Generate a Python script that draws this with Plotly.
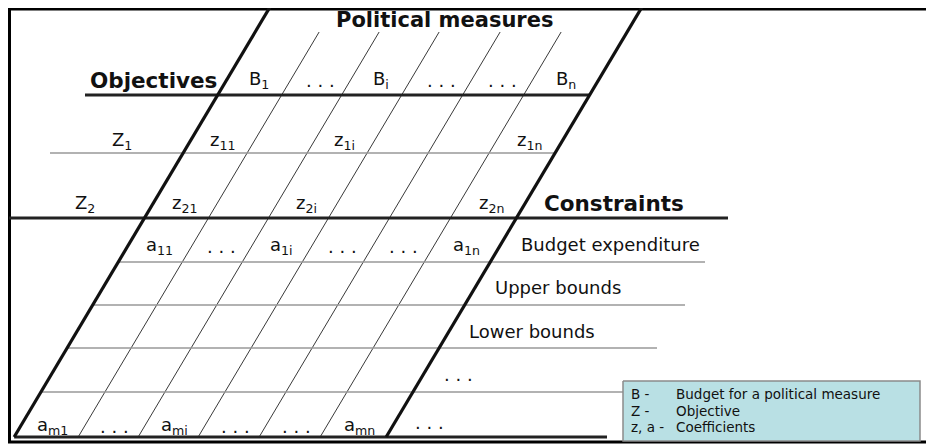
import plotly.graph_objects as go

# labels in the matrix
col_heads = ["B<sub>1</sub>", ". . .", "B<sub>i</sub>", ". . .", ". . .", "B<sub>n</sub>"]
obj_names = ["Z<sub>1</sub>", "Z<sub>2</sub>"]
obj_rows = [["z<sub>11</sub>", "", "z<sub>1i</sub>", "", "", "z<sub>1n</sub>"],
            ["z<sub>21</sub>", "", "z<sub>2i</sub>", "", "", "z<sub>2n</sub>"]]
con_first = ["a<sub>11</sub>", ". . .", "a<sub>1i</sub>", ". . .", ". . .", "a<sub>1n</sub>"]
con_last = ["a<sub>m1</sub>", ". . .", "a<sub>mi</sub>", ". . .", ". . .", "a<sub>mn</sub>"]
con_names = ["Budget expenditure", "Upper bounds", "Lower bounds", ". . .", ". . ."]
legend_keys = ["B -", "Z -", "z, a -"]
legend_desc = ["Budget for a political measure", "Objective", "Coefficients"]

# geometry of the slanted table (window pixel units)
TOP, BOT = 7, 437
SLOPE = 0.595
XL0, XR0 = 270, 642
col_off = [0, 64, 124, 184, 245, 306, 372]
FONT = "DejaVu Sans"
# the page body has an 8px margin, so the plot starts at (8, 8)
PAGE = 8


def xl(y):
    return XL0 - SLOPE * (y - TOP)


def xr(y):
    return XR0 - SLOPE * (y - TOP)


fig = go.Figure()


def seg(xs, ys, color, width):
    fig.add_trace(go.Scatter(x=xs, y=ys, mode="lines", hoverinfo="skip",
                             line=dict(color=color, width=width), showlegend=False))


# outer frame
seg([934, 9.5, 9.5, 934], [9, 9, 442, 442], "#000000", 3)

# thin slanted column lines
for off in col_off[1:-1]:
    seg([xl(32) + off, xl(BOT) + off], [32, BOT], "#222222", 0.9)

# horizontal lines
seg([85, xr(95)], [95, 95], "#222222", 3)
seg([50, xr(153)], [153, 153], "#999999", 1.6)
seg([9, 728], [218, 218], "#222222", 3)
for y, x1 in [(262, 705), (305, 685), (348, 657), (392, 623)]:
    seg([xl(y), x1], [y, y], "#999999", 1.6)
seg([xl(BOT), 607], [BOT, BOT], "#222222", 3)

# thick slanted borders
seg([xl(TOP), xl(BOT)], [TOP, BOT], "#111111", 3.2)
seg([xr(TOP), xr(BOT)], [TOP, BOT], "#111111", 3.2)

# legend box
fig.add_trace(go.Scatter(x=[623, 920, 920, 623, 623], y=[381, 381, 441, 441, 381],
                         mode="lines", fill="toself", fillcolor="#b9e0e4",
                         line=dict(color="#8a8a8a", width=1.5),
                         hoverinfo="skip", showlegend=False))

ann = []


def txt(x, y, s, size=18, bold=False, anchor="center"):
    ann.append(dict(x=x, y=y, text=("<b>%s</b>" % s) if bold else s, showarrow=False,
                    xanchor=anchor, yanchor="middle",
                    font=dict(family=FONT, size=size, color="#111111")))


def cell_x(y, k):
    return xl(y) + (col_off[k] + col_off[k + 1]) / 2


txt(444, 20, "Political measures", 21, True)
txt(xl(80) - 8, 80, "Objectives", 21.5, True, "right")
txt(xr(203) + 17, 203, "Constraints", 21.5, True, "left")

for k, s in enumerate(col_heads):
    txt(cell_x(80, k), 80, s)
for r, (y, name) in enumerate(zip([141, 204], obj_names)):
    txt(xl(y) - 68, y, name)
    for k, s in enumerate(obj_rows[r]):
        if s:
            txt(cell_x(y, k), y, s)
for k, s in enumerate(con_first):
    txt(cell_x(246, k), 246, s)
for k, s in enumerate(con_last):
    txt(cell_x(426, k), 426, s)
for y, s in zip([244, 287, 331, 374, 422], con_names):
    txt(xr(y) + 18, y, s, 18, anchor="left")

for i, (k, d) in enumerate(zip(legend_keys, legend_desc)):
    y = 394 + 16.5 * i
    txt(629, y, k, 13.5, anchor="left")
    txt(674, y, d, 13.5, anchor="left")

fig.update_layout(
    width=934 - PAGE, height=446 - PAGE,
    margin=dict(l=0, r=0, t=0, b=0),
    paper_bgcolor="white", plot_bgcolor="white",
    xaxis=dict(range=[PAGE, 934], visible=False, fixedrange=True),
    yaxis=dict(range=[446, PAGE], visible=False, fixedrange=True),
    annotations=ann,
)

fig.write_html("out.html")
